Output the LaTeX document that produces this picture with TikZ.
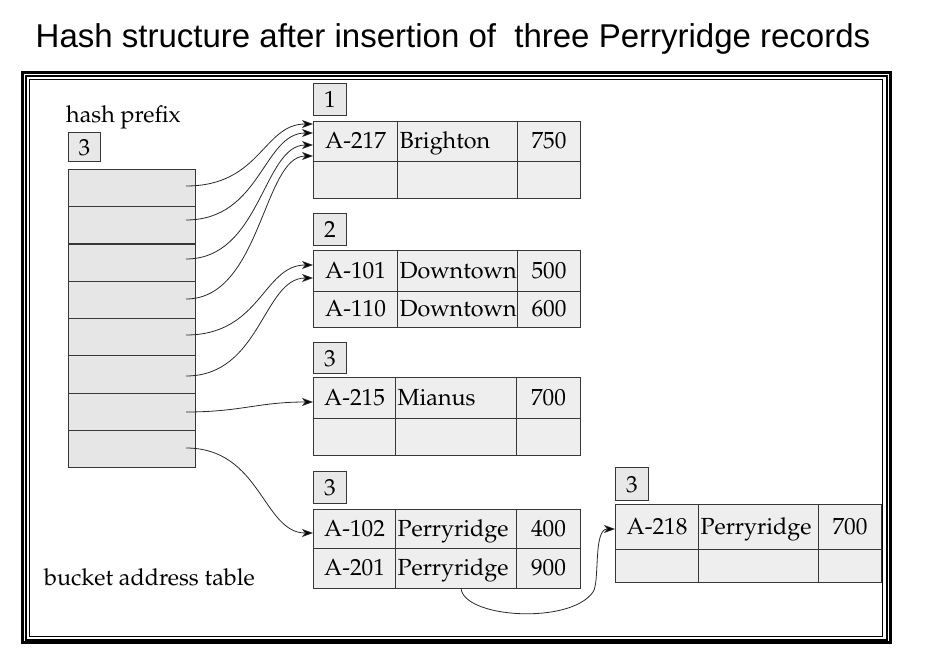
\documentclass[tikz,border=0pt]{standalone}
\usepackage{fontspec}
\newfontfamily\titlefont{Liberation Sans}
\usepackage[T1,TU]{fontenc}
\usetikzlibrary{arrows.meta}

\newcommand\cellfont{\fontencoding{T1}\fontfamily{ppl}\fontsize{23.3}{27}\selectfont}

\definecolor{cellfill}{RGB}{238,238,238}
\definecolor{tabfill}{RGB}{230,230,230}
\definecolor{tagfill}{RGB}{232,232,232}
\definecolor{edge}{RGB}{55,55,55}
\definecolor{wire}{RGB}{40,40,40}

\begin{document}
\begin{tikzpicture}[x=1pt,y=-1pt,
  every node/.style={inner sep=0pt},
  cell/.style={draw=edge, line width=1.1pt, fill=cellfill, anchor=north west,
    font=\cellfont, text height=17pt, text depth=3pt},
  lcell/.style={cell, inner xsep=2pt, align=left},
  tag/.style={draw=edge, line width=1.1pt, fill=tagfill, anchor=north west,
    font=\cellfont, text height=16pt, text depth=0pt, minimum width=33pt},
  slot/.style={draw=edge, line width=1.1pt, fill=tabfill, anchor=north west,
    minimum width=127pt, minimum height=37.25pt},
  ptr/.style={draw=wire, line width=0.8pt,
    -{Stealth[length=11pt,width=8pt,inset=3pt,fill=black]}},
  note/.style={font=\cellfont, anchor=base west},
]
\useasboundingbox (0,0) rectangle (944,668);

% title
\node[font=\titlefont\fontsize{33}{40}\selectfont, anchor=base] (title) at (453,48)
  {Hash structure after insertion of\ \ three Perryridge records};

% triple frame
\draw[line width=3pt] (22.5,72.5) rectangle (890.5,642.5);
\draw[line width=2pt] (26,76) rectangle (886.5,639.5);
\draw[line width=1.3pt] (29.3,79.3) rectangle (882.7,636.5);

% bucket address table
\node[note] (hp) at (66,123) {hash prefix};
\node[tag, minimum width=32pt, minimum height=29pt] (gd) at (68,132) {3};
\foreach \i in {1,...,8} {
  \node[slot] (t\i) at (68,{169+37.25*(\i-1)}) {};
}
\node[note] (bat) at (44,585) {bucket address table};

% bucket 1
\node[tag, minimum height=32pt] (l1) at (313,83) {1};
\node[cell, minimum width=84pt, minimum height=40pt] (b1a1) at (313,121) {A-217};
\node[lcell, text width=116pt, minimum height=40pt] (b1a2) at (397,121) {Brighton};
\node[cell, minimum width=63pt, minimum height=40pt] (b1a3) at (517,121) {750};
\node[cell, minimum width=84pt, minimum height=37pt] (b1b1) at (313,161) {};
\node[lcell, text width=116pt, minimum height=37pt] (b1b2) at (397,161) {};
\node[cell, minimum width=63pt, minimum height=37pt] (b1b3) at (517,161) {};

% bucket 2
\node[tag, minimum height=32pt] (l2) at (313,213) {2};
\node[cell, minimum width=84pt, minimum height=41pt] (b2a1) at (313,250) {A-101};
\node[lcell, text width=116pt, minimum height=41pt] (b2a2) at (397,250) {Downtown};
\node[cell, minimum width=63pt, minimum height=41pt] (b2a3) at (517,250) {500};
\node[cell, minimum width=84pt, minimum height=36pt] (b2b1) at (313,291) {A-110};
\node[lcell, text width=116pt, minimum height=36pt] (b2b2) at (397,291) {Downtown};
\node[cell, minimum width=63pt, minimum height=36pt] (b2b3) at (517,291) {600};

% bucket 3
\node[tag, minimum height=31pt] (l3) at (313,342) {3};
\node[cell, minimum width=82pt, minimum height=41pt] (b3a1) at (313,377) {A-215};
\node[lcell, text width=117pt, minimum height=41pt] (b3a2) at (395,377) {Mianus};
\node[cell, minimum width=64pt, minimum height=41pt] (b3a3) at (516,377) {700};
\node[cell, minimum width=82pt, minimum height=37pt] (b3b1) at (313,418) {};
\node[lcell, text width=117pt, minimum height=37pt] (b3b2) at (395,418) {};
\node[cell, minimum width=64pt, minimum height=37pt] (b3b3) at (516,418) {};

% bucket 4
\node[tag, minimum height=32pt] (l4) at (313,471) {3};
\node[cell, minimum width=82pt, minimum height=39pt] (b4a1) at (313,509) {A-102};
\node[lcell, text width=117pt, minimum height=39pt] (b4a2) at (395,509) {Perryridge};
\node[cell, minimum width=64pt, minimum height=39pt] (b4a3) at (516,509) {400};
\node[cell, minimum width=82pt, minimum height=40pt] (b4b1) at (313,548) {A-201};
\node[lcell, text width=117pt, minimum height=40pt] (b4b2) at (395,548) {Perryridge};
\node[cell, minimum width=64pt, minimum height=40pt] (b4b3) at (516,548) {900};

% overflow bucket
\node[tag, minimum height=33pt] (l5) at (615,467) {3};
\node[cell, minimum width=83pt, minimum height=45pt] (b5a1) at (615,504) {A-218};
\node[lcell, text width=116pt, minimum height=45pt] (b5a2) at (698,504) {Perryridge};
\node[cell, minimum width=63pt, minimum height=45pt] (b5a3) at (818,504) {700};
\node[cell, minimum width=83pt, minimum height=33pt] (b5b1) at (615,549) {};
\node[lcell, text width=116pt, minimum height=33pt] (b5b2) at (698,549) {};
\node[cell, minimum width=63pt, minimum height=33pt] (b5b3) at (818,549) {};

% pointer ends
\coordinate (p1) at (186,186);
\coordinate (p2) at (186,220);
\coordinate (p3) at (186,259);
\coordinate (p4) at (186,299);
\coordinate (p5) at (186,335);
\coordinate (p6) at (186,376);
\coordinate (p7) at (186,412);
\coordinate (p8) at (186,448);
\coordinate (q1) at (313,124);
\coordinate (q2) at (313,133);
\coordinate (q3) at (313,145);
\coordinate (q4) at (313,156);
\coordinate (q5) at (313,265);
\coordinate (q6) at (313,278);
\coordinate (q7) at (313,402);
\coordinate (q8) at (313,533);
\coordinate (s9) at (461,588);
\coordinate (q9) at (615,529);

% pointers from the address table
\foreach \k in {1,...,6,8} {
  \draw[ptr] (p\k) .. controls +(75,0) and +(-50,0) .. (q\k);
}
\draw[ptr] (p7) .. controls +(55,0) and +(-55,0) .. (q7);

% overflow chain
\draw[ptr] (s9) .. controls (463,618) and (570,625) .. (593,592)
  .. controls (600,582) and (593,529) .. (q9);
\end{tikzpicture}
\end{document}
